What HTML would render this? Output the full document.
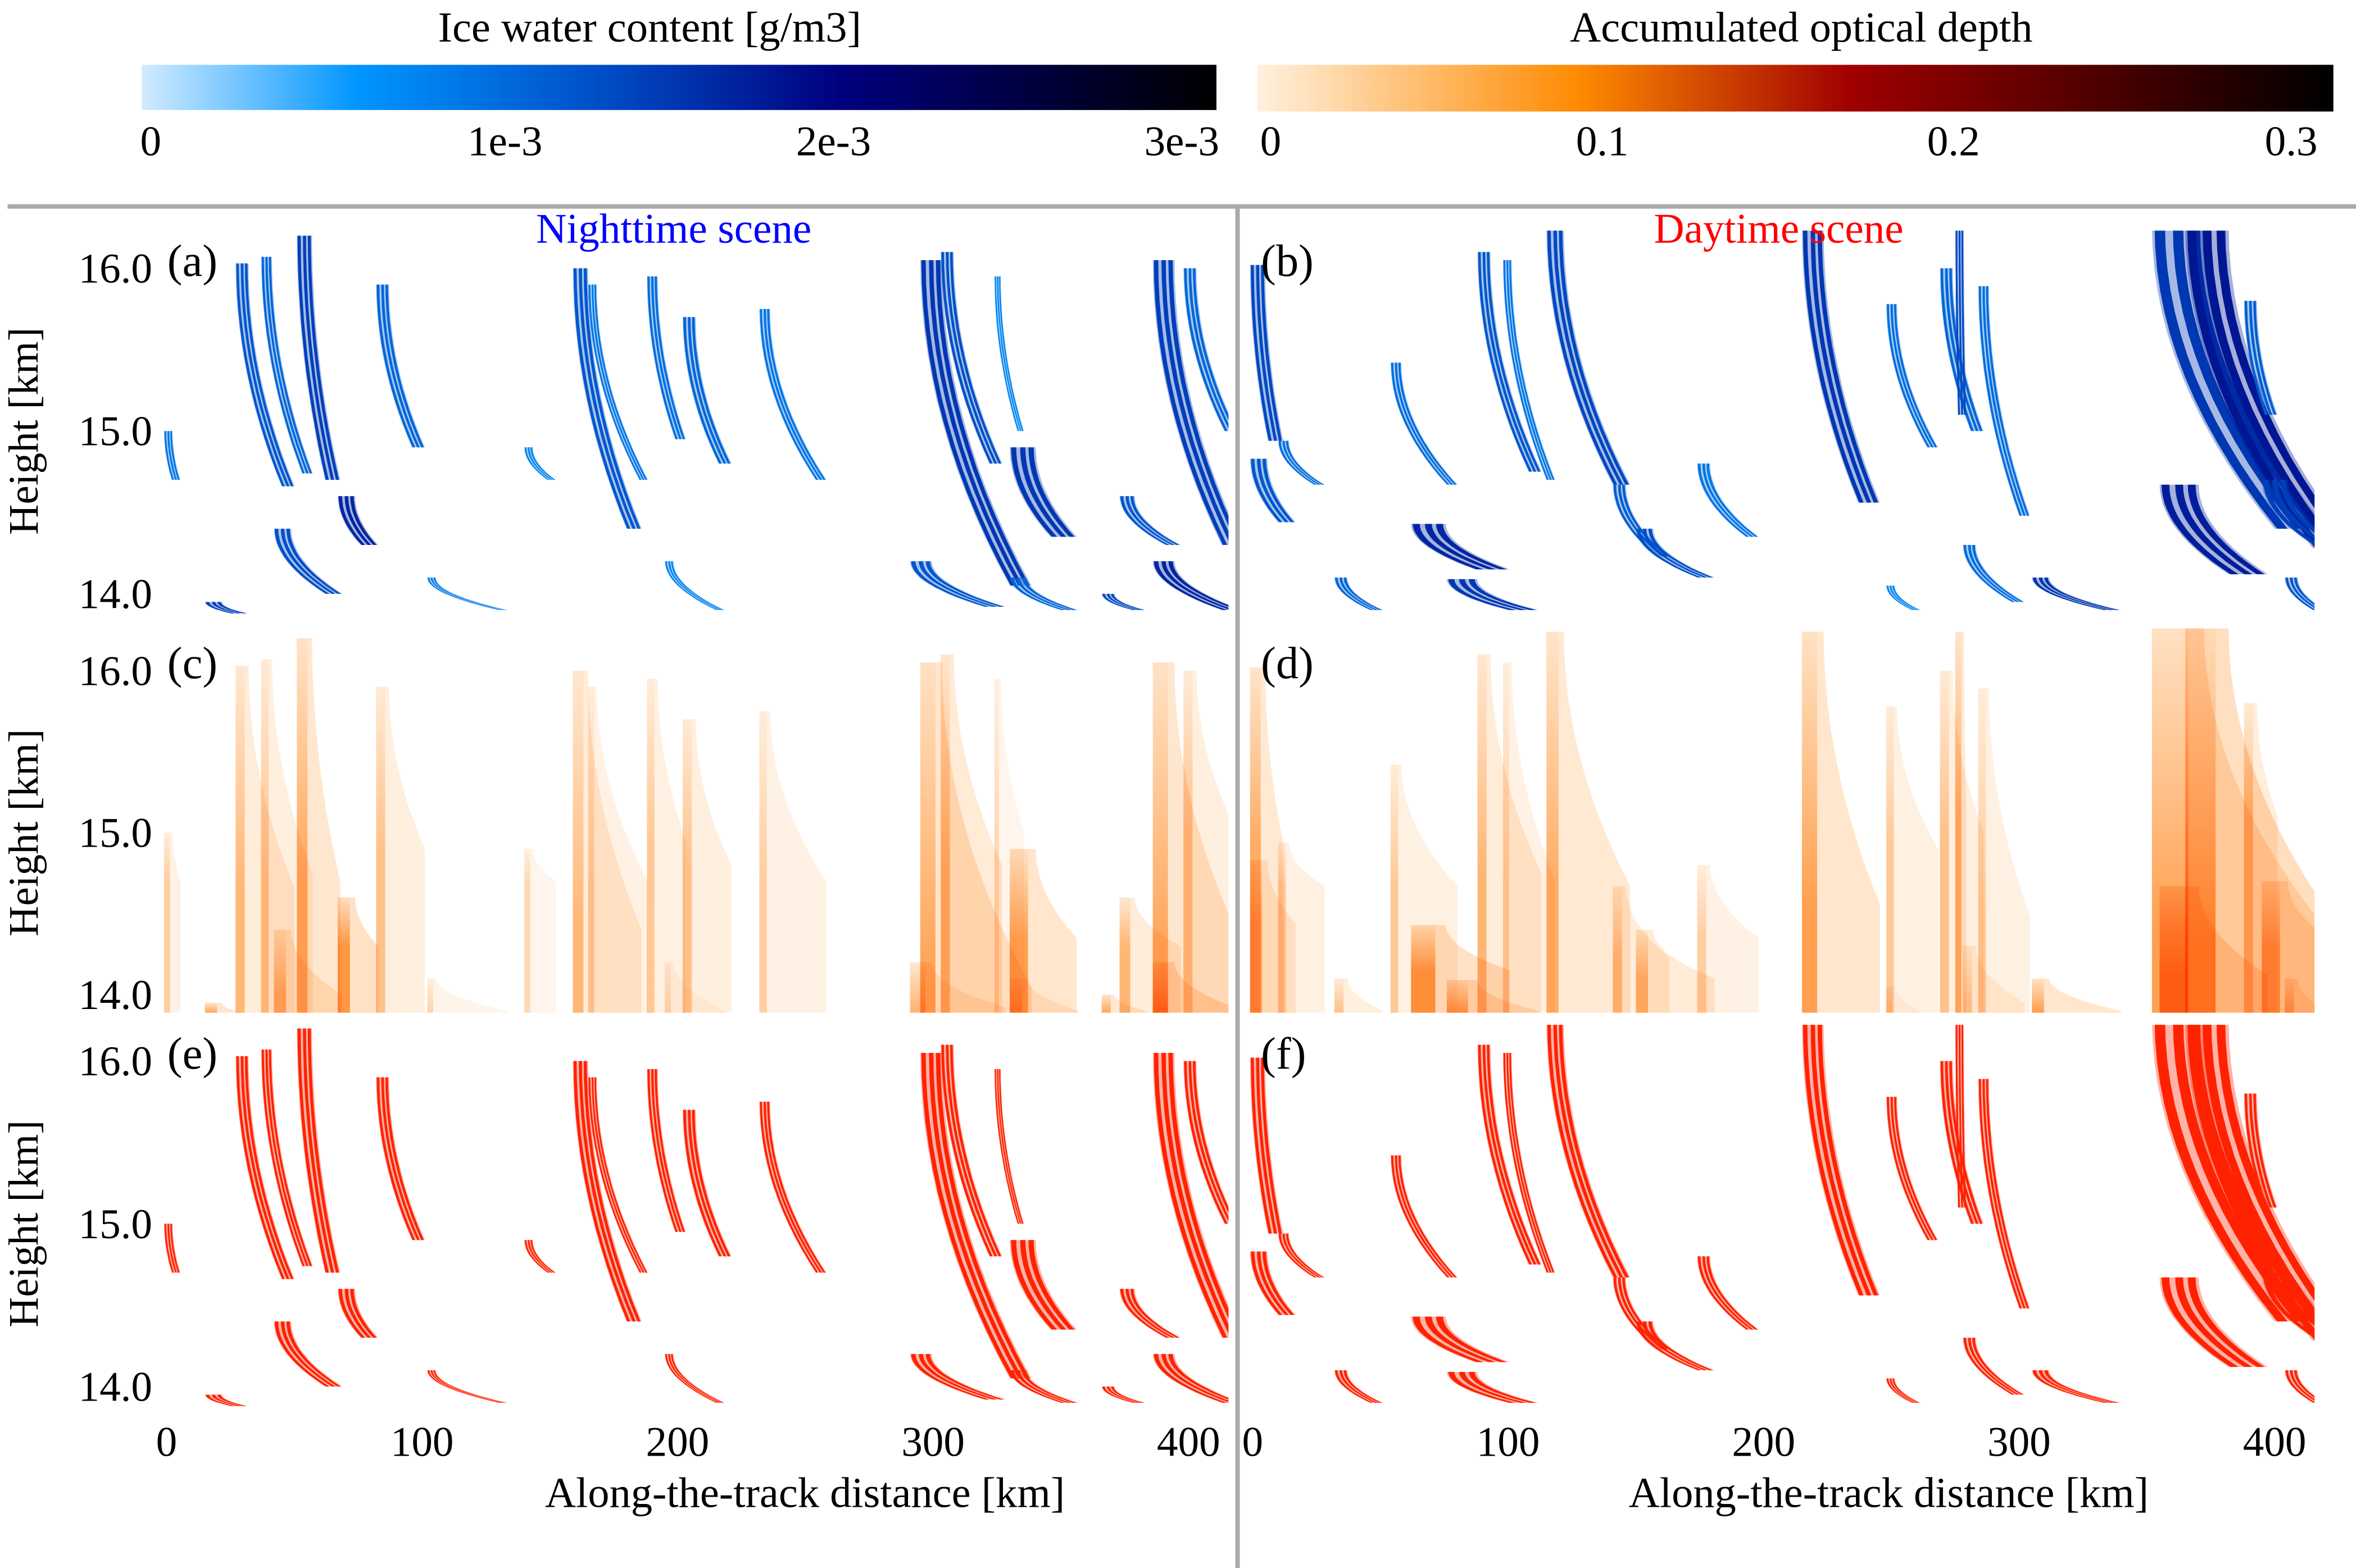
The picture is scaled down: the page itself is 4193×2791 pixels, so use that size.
<!DOCTYPE html>
<html><head><meta charset="utf-8">
<style>
html,body{margin:0;padding:0;background:#fff;}
svg{display:block;font-family:"Liberation Serif",serif;}
</style></head>
<body>
<svg id="fig" xmlns="http://www.w3.org/2000/svg" width="4193" height="2791" viewBox="0 0 1563 1040.4">
<defs>
<linearGradient id="gBlue" x1="0" x2="1" y1="0" y2="0">
<stop offset="0" stop-color="#d2ebff"/><stop offset="0.2" stop-color="#0096ff"/><stop offset="0.45" stop-color="#0046c0"/><stop offset="0.65" stop-color="#00007e"/><stop offset="1" stop-color="#000000"/>
</linearGradient>
<linearGradient id="gOr" x1="0" x2="1" y1="0" y2="0">
<stop offset="0" stop-color="#fff1df"/><stop offset="0.3" stop-color="#ff8a00"/><stop offset="0.55" stop-color="#a00000"/><stop offset="1" stop-color="#000000"/>
</linearGradient>
</defs>
<rect x="0" y="0" width="1563" height="1040.4" fill="#fff"/>
<g>
<text x="431" y="27.5" font-size="28.5" text-anchor="middle">Ice water content [g/m3]</text>
<rect x="94" y="43" width="713" height="30" fill="url(#gBlue)"/>
<text x="100" y="103" font-size="28" text-anchor="middle">0</text>
<text x="335" y="103" font-size="28" text-anchor="middle">1e-3</text>
<text x="553" y="103" font-size="28" text-anchor="middle">2e-3</text>
<text x="784" y="103" font-size="28" text-anchor="middle">3e-3</text>
</g>
<g>
<text x="1195" y="27.5" font-size="28.5" text-anchor="middle">Accumulated optical depth</text>
<rect x="834" y="43" width="714" height="31" fill="url(#gOr)"/>
<text x="843" y="103" font-size="28" text-anchor="middle">0</text>
<text x="1063" y="103" font-size="28" text-anchor="middle">0.1</text>
<text x="1296" y="103" font-size="28" text-anchor="middle">0.2</text>
<text x="1520" y="103" font-size="28" text-anchor="middle">0.3</text>
</g>
<line x1="5" y1="137" x2="1563" y2="137" stroke="#aaaaaa" stroke-width="3"/>
<line x1="821" y1="137" x2="821" y2="1040.4" stroke="#aaaaaa" stroke-width="3"/>
<g id="plots"></g>
<text x="447" y="161" font-size="28" fill="#0000ff" text-anchor="middle">Nighttime scene</text>
<text x="1180" y="161" font-size="28" fill="#ff0000" text-anchor="middle">Daytime scene</text>
<text x="534" y="1000" font-size="28.5" text-anchor="middle">Along-the-track distance [km]</text>
<text x="1253" y="1000" font-size="28.5" text-anchor="middle">Along-the-track distance [km]</text>
</svg>
<script>
// Nighttime scene streaks (km, km height, km width, g/m3)
const nightX0 = [27,37,51,67,82,42,-1,15,102,159,165,188,202,232,140,195,295,303,330,324,373,386,398,291,330,366,386];
const nightH0 = [16.03,16.07,16.2,14.6,15.9,14.4,15.0,13.95,14.1,16.0,15.9,15.95,15.7,15.75,14.9,14.2,16.05,16.1,14.9,15.95,14.6,16.05,16.0,14.2,14.1,14.0,14.2];
const nightX1 = [45,53,62,76,96,62,2,25,130,180,185,199,216,254,149,215,330,322,346,333,391,413,414,320,350,378,413];
const nightH1 = [14.66,14.74,14.7,14.3,14.9,14.0,14.7,13.88,13.9,14.4,14.7,14.95,14.8,14.7,14.7,13.9,14.05,14.8,14.35,15.0,14.3,14.3,15.0,13.92,13.9,13.9,13.9];
const nightW = [3,2.5,3.5,4,3,4,2,4,2,3.5,2,2.5,3,2.5,2,2,5,3,6,1.5,3.5,5,3,5,4,3,5];
const nightIWC = [1.2e-3,1.0e-3,1.5e-3,1.8e-3,1.0e-3,1.3e-3,0.8e-3,1.5e-3,0.7e-3,1.2e-3,0.8e-3,0.9e-3,1.0e-3,0.8e-3,0.6e-3,0.6e-3,1.6e-3,1.3e-3,1.6e-3,0.6e-3,1.2e-3,1.5e-3,1.0e-3,1.2e-3,1.0e-3,1.4e-3,1.8e-3];
// Daytime scene streaks
const dayX0 = [-1,-1,10,54,62,76,88,98,115,141,150,215,248,269,275,284,352,365,355,388,32,248,305,278,174,404,395];
const dayH0 = [16.02,14.83,14.94,15.42,14.43,14.09,16.1,16.05,16.24,14.67,14.4,16.24,15.78,16.0,16.24,15.89,16.26,16.26,14.67,15.8,14.1,14.05,14.1,14.3,14.8,14.1,14.7];
const dayX1 = [6,10,24,76,87,100,108,115,141,158,174,237,264,281,276,300,400,415,382,396,46,258,333,297,193,415,415];
const dayH1 = [14.94,14.44,14.67,14.67,14.15,13.9,14.75,14.7,14.67,14.23,14.1,14.56,14.9,15.0,15.1,14.48,14.4,14.28,14.12,15.1,13.9,13.9,13.9,13.95,14.35,13.9,14.3];
const dayW = [3.5,4,2.5,2.5,8,7,3,2,4,3,4,5,2.5,3,2,2.5,12,10,9,3,3,2,4,3,3,3,6];
const dayIWC = [1.4e-3,1.2e-3,0.9e-3,0.9e-3,1.8e-3,1.6e-3,1.2e-3,0.8e-3,1.4e-3,1.1e-3,1.3e-3,1.6e-3,0.9e-3,1.0e-3,1.4e-3,0.9e-3,1.6e-3,2.0e-3,1.9e-3,1.1e-3,1.0e-3,0.6e-3,1.6e-3,0.9e-3,0.8e-3,1.2e-3,1.5e-3];
const xTickKm = [0,100,200,300,400];
const yTickKm = [16.0,15.0,14.0];
const rowLetters = [["a","b"],["c","d"],["e","f"]];

const NS="http://www.w3.org/2000/svg";
const plots=document.getElementById('plots');
const defs=document.querySelector('defs');
const sides=[{pl:107,pr:815,k0:110.5},{pl:827.5,pr:1535.5,k0:831}];
const rows=[{top:153,bot:407.5,y16:178,s:108},{top:416,bot:672,y16:445,s:107.5},{top:680,bot:934.5,y16:704,s:108}];
const KPX=1.695;
const WS=1.7;
function xs(si,km){return sides[si].k0+km*KPX;}
function ys(ri,h){return rows[ri].y16+(16-h)*rows[ri].s;}
function mk(tag,attrs,parent){const e=document.createElementNS(NS,tag);for(const k in attrs)e.setAttribute(k,attrs[k]);parent.appendChild(e);return e;}
function hex(c){return [parseInt(c.substr(1,2),16),parseInt(c.substr(3,2),16),parseInt(c.substr(5,2),16)];}
const blueStops=[[0,'#d2ebff'],[0.2,'#0096ff'],[0.45,'#0046c0'],[0.65,'#00007e'],[1,'#000000']];
function blue(v){v=Math.max(0,Math.min(1,v));for(let i=1;i<blueStops.length;i++){if(v<=blueStops[i][0]){const a=blueStops[i-1],b=blueStops[i];const t=(v-a[0])/(b[0]-a[0]);const A=hex(a[1]),B=hex(b[1]);return 'rgb('+A.map((x,j)=>Math.round(x+(B[j]-x)*t)).join(',')+')';}}return '#000';}
function edge(si,ri,x0,h0,x1,h1,off){const p=[];const N=14;for(let i=0;i<=N;i++){const t=i/N;p.push([xs(si,x0+(x1-x0)*t*t+off),ys(ri,h0+(h1-h0)*t)]);}return p;}
function band(si,ri,x0,h0,x1,h1,off,ww){const L=edge(si,ri,x0,h0,x1,h1,off);const R=edge(si,ri,x0,h0,x1,h1,off+ww).reverse();return L.concat(R).map(p=>p[0].toFixed(1)+','+p[1].toFixed(1)).join(' ');}

let gid=0;
function drawPanel(si,ri,kind,X0,H0,X1,H1,W,V){
  const s=sides[si],r=rows[ri];
  const cid='clip'+si+ri;
  const cp=mk('clipPath',{id:cid},defs);
  mk('rect',{x:s.pl,y:r.top,width:s.pr-s.pl,height:r.bot-r.top},cp);
  const g=mk('g',{'clip-path':'url(#'+cid+')'},plots);
  
  
  for(let i=0;i<X0.length;i++){
    const w=W[i]*WS;
    if(kind==='od'){
      const a=Math.min(0.6,V[i]/1e-3*0.2);
      const L=edge(si,ri,X0[i],H0[i],X1[i],H1[i],w);
      const pts=[[xs(si,X0[i]),ys(ri,H0[i])]].concat(L).concat([[xs(si,X1[i]+w),r.bot],[xs(si,X0[i]),r.bot]]);
      const p=mk('polygon',{points:pts.map(q=>q[0].toFixed(1)+','+q[1].toFixed(1)).join(' '),fill:'#ffb060','fill-opacity':a.toFixed(2),style:'mix-blend-mode:multiply'},g);
      
      
      const id='odg'+(gid++);
      const y0=ys(ri,H0[i]),y1=ys(ri,H1[i]);
      const f=Math.max(0.05,Math.min(1,(y1-y0)/(r.bot-y0)));
      const op=Math.min(0.8,V[i]/1e-3*0.38).toFixed(2);
      const lg=mk('linearGradient',{id:id,x1:0,x2:0,y1:0,y2:1},defs);
      mk('stop',{offset:0,'stop-color':'#ff8a10','stop-opacity':0.05},lg);
      mk('stop',{offset:f,'stop-color':'#ff8000','stop-opacity':op},lg);
      mk('stop',{offset:1,'stop-color':'#ff8000','stop-opacity':op},lg);
      const c=mk('rect',{x:xs(si,X0[i]),y:y0,width:w*KPX*0.7,height:r.bot-y0,fill:'url(#'+id+')',style:'mix-blend-mode:multiply'},g);
      
      
    } else {
      const col = kind==='iwc' ? blue(V[i]/3e-3*0.7+0.12) : '#ff2200';
      const b=mk('polygon',{points:band(si,ri,X0[i],H0[i],X1[i],H1[i],0,w),fill:col,'fill-opacity':0.35},g);
      
      
      const offs=[0.05,0.4,0.72];
      for(const o of offs){
        const c=mk('polygon',{points:band(si,ri,X0[i],H0[i],X1[i],H1[i],w*o,w*0.2),fill:col},g);
        
        
      }
    }
  }
}
const kinds=['iwc','od','mask'];
for(let ri=0;ri<3;ri++){
  drawPanel(0,ri,kinds[ri],nightX0,nightH0,nightX1,nightH1,nightW,nightIWC);
  drawPanel(1,ri,kinds[ri],dayX0,dayH0,dayX1,dayH1,dayW,dayIWC);
  for(let si=0;si<2;si++){
    const t=mk('text',{x:si?836.5:111,y:rows[ri].y16+5,'font-size':30},plots);
    t.textContent='('+rowLetters[ri][si]+')';
    
    
  }
  for(const h of yTickKm){
    const t=mk('text',{x:101,y:ys(ri,h)+9.5,'font-size':28,'text-anchor':'end'},plots);
    t.textContent=h.toFixed(1);
    
    
  }
  const yc=(ys(ri,16)+ys(ri,14))/2;
  const yt=mk('text',{x:0,y:0,'font-size':28,'text-anchor':'middle',transform:'translate(25,'+yc.toFixed(1)+') rotate(-90)'},plots);
  yt.textContent='Height [km]';
  
  
}
for(let si=0;si<2;si++){
  for(const k of xTickKm){
    const t=mk('text',{x:xs(si,k),y:966,'font-size':28,'text-anchor':'middle'},plots);
    t.textContent=String(k);
    
    
  }
}
</script>
</body></html>
